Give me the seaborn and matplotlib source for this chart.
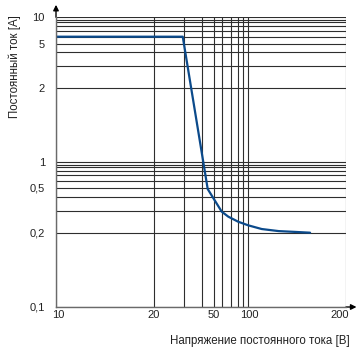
import numpy as np
import matplotlib
matplotlib.use("Agg")
import matplotlib.pyplot as plt
import matplotlib.ticker as mticker
import matplotlib.transforms as mtransforms
import seaborn as sns

# --- DATA ---
VOLTAGE = [10, 29.5, 44.6, 49.5, 59.2, 66.9, 81, 100, 110, 124, 139, 155]
CURRENT = [5.5, 5.5, 0.484, 0.387, 0.295, 0.269, 0.245, 0.229, 0.214, 0.206, 0.203, 0.2]

X_TICKS = [10, 20, 50, 100, 200]
X_TICK_LABELS = ["10", "20", "50", "100", "200"]
Y_TICKS = [0.1, 0.2, 0.5, 1, 2, 5, 10]
Y_TICK_LABELS = ["0,1", "0,2", "0,5", "1", "2", "5", "10"]

X_GRID = [20, 30, 40, 50, 60, 70, 80, 90, 100, 200]
Y_GRID = [0.2, 0.3, 0.4, 0.5, 0.55, 0.6, 0.7, 0.8, 0.9, 1, 2, 3, 4, 5, 5.5, 6, 7, 8, 9, 10]

X_LABEL = "Напряжение постоянного тока [B]"
Y_LABEL = "Постоянный ток [A]"

# --- LAYOUT: the printed chart uses a hand-drawn (non-uniform) log grid ---
# anchor value -> pixel position, interpolated in log space
X_ANCHOR_VALS = [10, 20, 30, 40, 50, 60, 70, 80, 90, 100, 200]
X_ANCHOR_PX = [56, 154, 184, 201.7, 214, 222.3, 230.7, 237.5, 243.3, 248.3, 346]
Y_ANCHOR_VALS = [0.1, 0.2, 0.3, 0.4, 0.5, 0.55, 0.6, 0.7, 0.8, 0.9, 1,
                 2, 3, 4, 5, 5.5, 6, 7, 8, 9, 10]
Y_ANCHOR_PX = [307, 232.7, 210.7, 196.7, 187.7, 181, 175, 170.7, 167.3, 164.7, 162.3,
               88.3, 66.3, 52, 44, 36.7, 30.7, 25.7, 22.3, 20, 17.3]

W, H = 357, 352
AX_L, AX_R, AX_T, AX_B = 56, 346, 17.3, 307

BLUE = "#0b4a8b"
GRID_COLOR = "#2e2e2e"
TEXT_COLOR = "#222222"


def make_scale(vals, px, flip=False):
    lv = np.log10(np.asarray(vals, dtype=float))
    p = np.asarray(px, dtype=float)
    if flip:
        p = p[0] - p  # make increasing with value
    else:
        p = p - p[0]

    def fwd(v):
        v = np.clip(np.asarray(v, dtype=float), 1e-6, None)
        return np.interp(np.log10(v), lv, p)

    def inv(u):
        return 10 ** np.interp(np.asarray(u, dtype=float), p, lv)

    return fwd, inv


sns.set_style("white")
plt.rcParams['font.family'] = ['Liberation Sans', 'DejaVu Sans']

fig = plt.figure(figsize=(W / 100, H / 100), dpi=100)
ax = fig.add_axes([AX_L / W, (H - AX_B) / H, (AX_R - AX_L) / W, (AX_B - AX_T) / H])

ax.set_xscale('function', functions=make_scale(X_ANCHOR_VALS, X_ANCHOR_PX))
ax.set_yscale('function', functions=make_scale(Y_ANCHOR_VALS, Y_ANCHOR_PX, flip=True))

sns.lineplot(x=VOLTAGE, y=CURRENT, ax=ax, color=BLUE, lw=1.6, zorder=5)

ax.set_xlim(10, 200)
ax.set_ylim(0.1, 10)

ax.xaxis.set_major_locator(mticker.FixedLocator(X_TICKS))
ax.xaxis.set_major_formatter(mticker.FixedFormatter(X_TICK_LABELS))
ax.yaxis.set_major_locator(mticker.FixedLocator(Y_TICKS))
ax.yaxis.set_major_formatter(mticker.FixedFormatter(Y_TICK_LABELS))
ax.xaxis.set_minor_locator(mticker.FixedLocator(X_GRID))
ax.yaxis.set_minor_locator(mticker.FixedLocator(Y_GRID))
ax.xaxis.set_minor_formatter(mticker.NullFormatter())
ax.yaxis.set_minor_formatter(mticker.NullFormatter())

ax.tick_params(which='both', length=0)
ax.tick_params(axis='x', pad=2.5, labelsize=8, labelcolor=TEXT_COLOR)
ax.tick_params(axis='y', pad=8, labelsize=8, labelcolor=TEXT_COLOR)

# minor ticks sharing a major position are dropped, so grid on both
ax.grid(True, which='both', color=GRID_COLOR, lw=0.8)

for side in ['top', 'right']:
    ax.spines[side].set_visible(False)
for side in ['left', 'bottom']:
    ax.spines[side].set_color('#6a6a6a')
    ax.spines[side].set_linewidth(1.0)
    ax.spines[side].set_zorder(6)

# arrow heads on the axes
arrow = dict(arrowstyle='-|>', color='black', lw=1.0, mutation_scale=8, shrinkA=0, shrinkB=0)
ax.annotate('', xy=(0, 1 + 12.5 / (AX_B - AX_T)), xytext=(0, 1), xycoords='axes fraction',
            arrowprops=arrow, annotation_clip=False)
ax.annotate('', xy=(1 + 10.5 / (AX_R - AX_L), 0), xytext=(1, 0), xycoords='axes fraction',
            arrowprops=arrow, annotation_clip=False)

# nudge the end x labels like the printed chart
shift = [2.5, 0, 0, 1.5, -6]
for lbl, dx in zip(ax.get_xticklabels(), shift):
    lbl.set_transform(lbl.get_transform() + mtransforms.ScaledTranslation(dx / 100, 0, fig.dpi_scale_trans))

fig.text(350 / W, 1 - 341 / H, X_LABEL, ha='right', va='center', fontsize=8.3, color=TEXT_COLOR)
fig.text(15 / W, 1 - 15 / H, Y_LABEL, ha='center', va='top', rotation=90, fontsize=8.3, color=TEXT_COLOR)

fig.savefig("out.png", dpi=100)
